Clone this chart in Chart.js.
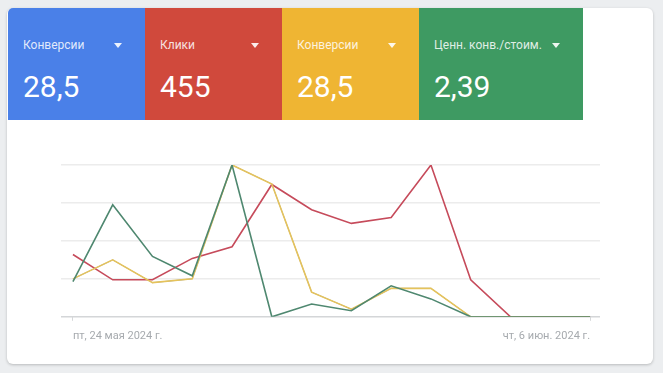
<!DOCTYPE html>
<html>
<head>
<meta charset="utf-8">
<script src="https://cdn.jsdelivr.net/npm/chart.js@4"></script>
<style>
  html, body { margin: 0; padding: 0; }
  body { width: 663px; height: 373px; background: #eceef0; position: relative; overflow: hidden; font-family: Roboto, "Noto Sans", sans-serif; }
  .card { position: absolute; left: 7px; top: 8px; width: 646px; height: 356px; background: #fff; border-radius: 6px; box-shadow: 0 1px 3px rgba(0,0,0,0.22); }
  .tile { position: absolute; top: 8px; height: 112px; color: #fff; }
  .tile .lbl { position: absolute; left: 15px; top: 31px; font-size: 12px; line-height: 12px; color: rgba(255,255,255,0.85); white-space: nowrap; }
  .tile .val { position: absolute; left: 15px; top: 64px; font-size: 30px; line-height: 30px; }
  .tile .arr { position: absolute; top: 35px; width: 0; height: 0; border-left: 4px solid transparent; border-right: 4px solid transparent; border-top: 5px solid rgba(255,255,255,0.9); }
  #wrap { position: absolute; left: 40px; top: 150px; width: 580px; height: 203px; }
</style>
</head>
<body>
<div class="card"></div>
<div id="tiles"></div>
<div id="wrap"><canvas id="chart"></canvas></div>
<script>
// tiles
const tileNames = ['Конверсии', 'Клики', 'Конверсии', 'Ценн. конв./стоим.'];
const tileValues = ['28,5', '455', '28,5', '2,39'];
const tileColors = ['#4a80e8', '#d0493c', '#efb533', '#3e9a62'];
const tileLefts = [8, 145, 282, 419];
const tileWidths = [137, 137, 137, 164];

// chart data (one point per day)
const dates = ['пт, 24 мая 2024 г.', 'сб, 25 мая 2024 г.', 'вс, 26 мая 2024 г.', 'пн, 27 мая 2024 г.',
  'вт, 28 мая 2024 г.', 'ср, 29 мая 2024 г.', 'чт, 30 мая 2024 г.', 'пт, 31 мая 2024 г.',
  'сб, 1 июн. 2024 г.', 'вс, 2 июн. 2024 г.', 'пн, 3 июн. 2024 г.', 'вт, 4 июн. 2024 г.',
  'ср, 5 июн. 2024 г.', 'чт, 6 июн. 2024 г.'];
const clicks = [32, 19, 19, 30, 36, 68, 55, 48, 51, 78, 19, 0, 0, 0];
const conversions = [2, 3, 1.8, 2, 8, 7, 1.3, 0.4, 1.5, 1.5, 0, 0, 0, 0];
const convValuePerCost = [1.16, 3.69, 1.99, 1.35, 5, 0, 0.42, 0.2, 1.02, 0.59, 0, 0, 0, 0];

const tilesDiv = document.getElementById('tiles');
tileNames.forEach((name, i) => {
  const t = document.createElement('div');
  t.className = 'tile';
  t.style.left = tileLefts[i] + 'px';
  t.style.width = tileWidths[i] + 'px';
  t.style.background = tileColors[i];
  if (i === 0) t.style.borderTopLeftRadius = '5px';
  t.innerHTML = '<div class="lbl">' + name + '</div><div class="val">' + tileValues[i] + '</div>' +
    '<div class="arr" style="left:' + (tileWidths[i] - 31) + 'px"></div>';
  tilesDiv.appendChild(t);
});

const pts = arr => arr.map((v, i) => ({ x: i, y: v }));

const data = {
  datasets: [
    { label: 'Ценн. конв./стоим.', data: pts(convValuePerCost), yAxisID: 'yValue', borderColor: '#4f8870' },
    { label: 'Конверсии', data: pts(conversions), yAxisID: 'yConv', borderColor: '#e6c35a' },
    { label: 'Клики', data: pts(clicks), yAxisID: 'y', borderColor: '#c64b5b' },
    { label: 'Конверсии', data: pts(conversions), yAxisID: 'yConv', borderColor: '#5a86d8', borderWidth: 0.8 }
  ].map(d => Object.assign({ borderWidth: 1.6, pointRadius: 0, tension: 0, fill: false }, d))
};

const config = {
  type: 'line',
  data: data,
  options: {
    animation: false,
    responsive: true,
    maintainAspectRatio: false,
    layout: { padding: { left: 21, right: 20, top: 15, bottom: 1 } },
    plugins: { legend: { display: false }, tooltip: { enabled: false } },
    scales: {
      x: {
        type: 'linear',
        min: -0.3,
        max: 13.25,
        afterBuildTicks: axis => { axis.ticks = [{ value: 0 }, { value: dates.length - 1 }]; },
        ticks: {
          autoSkip: false,
          maxRotation: 0,
          align: 'inner',
          padding: 9,
          color: '#a6aaae',
          font: { family: 'Roboto', size: 11 },
          callback: v => dates[v]
        },
        grid: { drawOnChartArea: false, tickLength: 4, color: '#d6d8da' },
        border: { display: false }
      },
      y: {
        min: 0,
        max: 78,
        ticks: { stepSize: 19.5, display: false },
        grid: {
          drawTicks: false,
          lineWidth: 1.5,
          color: ctx => ctx.index === 0 ? '#d4d6d8' : '#ececec'
        },
        border: { display: false }
      },
      yConv: { display: false, min: 0, max: 8 },
      yValue: { display: false, min: 0, max: 5 }
    }
  }
};

new Chart(document.getElementById('chart').getContext('2d'), config);
</script>
</body>
</html>
